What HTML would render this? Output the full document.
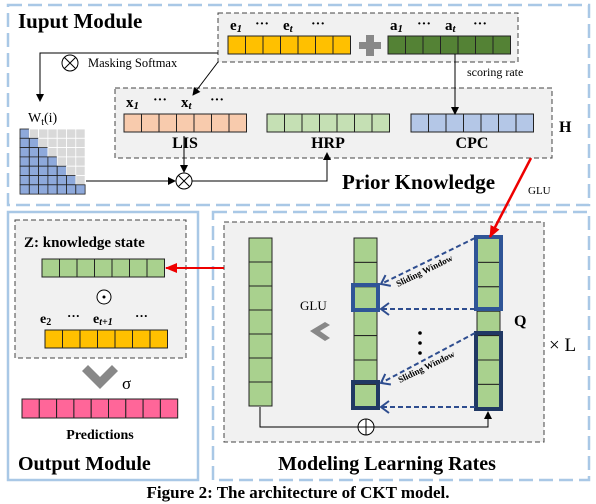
<!DOCTYPE html>
<html><head><meta charset="utf-8"><style>
body{margin:0;background:#fff;width:596px;height:504px;overflow:hidden}
svg{display:block}
text{font-family:"Liberation Serif",serif;fill:#000}
.b{font-weight:bold}
</style></head><body>
<svg id="s" width="596" height="504" viewBox="0 0 596 504" xmlns="http://www.w3.org/2000/svg">
<defs>
<marker id="ar" markerWidth="8" markerHeight="8" refX="7" refY="4" orient="auto" markerUnits="userSpaceOnUse"><path d="M0,0 L8,4 L0,8 z" fill="#000"/></marker>
<marker id="arr" markerWidth="12" markerHeight="10" refX="11" refY="5" orient="auto" markerUnits="userSpaceOnUse"><path d="M0,0 L12,5 L0,10 z" fill="#e00"/></marker>
<marker id="arb" markerWidth="12" markerHeight="14" refX="9" refY="7" orient="auto" markerUnits="userSpaceOnUse"><path d="M1,1 L9,7 L1,13" fill="none" stroke="#2e4d8f" stroke-width="2"/></marker>
</defs>
<rect x="8" y="5" width="581" height="200" fill="none" stroke="#a9c8e6" stroke-width="2.5" stroke-dasharray="14,6"/>
<rect x="8" y="212" width="190" height="268" fill="none" stroke="#a9c8e6" stroke-width="2.5"/>
<rect x="213" y="212" width="376" height="268" fill="none" stroke="#a9c8e6" stroke-width="2.5" stroke-dasharray="14,6"/>
<rect x="218" y="13" width="300" height="49" fill="#f1f1f1" stroke="#444" stroke-dasharray="5,3"/>
<rect x="115" y="88" width="437" height="70" fill="#f1f1f1" stroke="#444" stroke-dasharray="5,3"/>
<rect x="224" y="222" width="320" height="220" fill="#f1f1f1" stroke="#444" stroke-dasharray="5,3"/>
<rect x="15" y="220" width="171" height="138" fill="#f1f1f1" stroke="#444" stroke-dasharray="5,3"/>
<g id="cells"></g>
<text x="18" y="28" class="b" font-size="21">Iuput Module</text>
<text x="230" y="30" class="b" font-size="15">e<tspan font-size="11" font-style="italic" dy="2">1</tspan></text>
<text x="255" y="28" class="b" font-size="14">···</text>
<text x="283" y="30" class="b" font-size="15">e<tspan font-size="11" font-style="italic" dy="2">t</tspan></text>
<text x="311" y="28" class="b" font-size="14">···</text>
<text x="390" y="30" class="b" font-size="15">a<tspan font-size="11" font-style="italic" dy="2">1</tspan></text>
<text x="417" y="28" class="b" font-size="14">···</text>
<text x="445" y="30" class="b" font-size="15">a<tspan font-size="11" font-style="italic" dy="2">t</tspan></text>
<text x="473" y="28" class="b" font-size="14">···</text>
<rect x="359" y="42" width="22" height="7" fill="#888"/><rect x="366" y="35" width="8" height="21" fill="#888"/>
<text x="467" y="76" font-size="12">scoring rate</text>
<polyline points="218,53 40,53 40,101" fill="none" stroke="#000" marker-end="url(#ar)"/>
<circle cx="70" cy="63" r="8" fill="#fff" stroke="#000"/><path d="M64.5,57.5 L75.5,68.5 M75.5,57.5 L64.5,68.5" stroke="#000"/>
<text x="88" y="67" font-size="12.5">Masking  Softmax</text>
<line x1="218" y1="62" x2="193" y2="95" stroke="#000" marker-end="url(#ar)"/>
<line x1="455" y1="54" x2="455" y2="114" stroke="#000" marker-end="url(#ar)"/>
<text x="28" y="122" font-size="14">W<tspan font-size="10" dy="3">t</tspan><tspan dy="-3">(i)</tspan></text>
<text x="126" y="107" class="b" font-size="15">x<tspan font-size="11" font-style="italic" dy="2">1</tspan></text>
<text x="153" y="104" class="b" font-size="14">···</text>
<text x="181" y="107" class="b" font-size="15">x<tspan font-size="11" font-style="italic" dy="2">t</tspan></text>
<text x="210" y="104" class="b" font-size="14">···</text>
<text x="185" y="148" class="b" font-size="16" text-anchor="middle">LIS</text>
<text x="328" y="148" class="b" font-size="16" text-anchor="middle">HRP</text>
<text x="472" y="148" class="b" font-size="16" text-anchor="middle">CPC</text>
<text x="559" y="132" class="b" font-size="16">H</text>
<text x="342" y="189" class="b" font-size="21">Prior Knowledge</text>
<text x="528" y="194" font-size="11">GLU</text>
<line x1="184" y1="136" x2="184" y2="172" stroke="#000" marker-end="url(#ar)"/>
<line x1="86" y1="181" x2="175" y2="181" stroke="#000" marker-end="url(#ar)"/>
<polyline points="192,181 327,181 327,153" fill="none" stroke="#000" marker-end="url(#ar)"/>
<circle cx="184" cy="181" r="8" fill="#fff" stroke="#000"/><path d="M178.5,175.5 L189.5,186.5 M189.5,175.5 L178.5,186.5" stroke="#000"/>
<line x1="531" y1="158" x2="490" y2="237" stroke="#e00" stroke-width="2.5" marker-end="url(#arr)"/>
<line x1="224" y1="268" x2="166" y2="268" stroke="#e00" stroke-width="2" marker-end="url(#arr)"/>
<text x="300" y="310" font-size="13">GLU</text>
<path d="M325,322 L310,331 L325,341 L330,338 L320,331 L330,325 z" fill="#888"/>
<circle cx="420" cy="333" r="1.8" fill="#000"/><circle cx="420" cy="343" r="1.8" fill="#000"/><circle cx="420" cy="353" r="1.8" fill="#000"/>
<g stroke="#2e4d8f" stroke-width="2" stroke-dasharray="5,3" fill="none">
<line x1="475" y1="238" x2="381" y2="284" marker-end="url(#arb)"/>
<line x1="475" y1="309" x2="381" y2="309" marker-end="url(#arb)"/>
<line x1="475" y1="333" x2="381" y2="383" marker-end="url(#arb)"/>
<line x1="475" y1="407" x2="381" y2="407" marker-end="url(#arb)"/>
</g>
<text x="0" y="0" class="b" font-size="9" transform="translate(398,287) rotate(-26)">Sliding Window</text>
<text x="0" y="0" class="b" font-size="9" transform="translate(400,383) rotate(-26)">Sliding Window</text>
<text x="514" y="326" class="b" font-size="16">Q</text>
<text x="549" y="351" font-size="19">× L</text>
<polyline points="260,407 260,427 488,427 488,412" fill="none" stroke="#000" marker-end="url(#ar)"/>
<circle cx="366" cy="427" r="8" fill="#fff" stroke="#000"/><path d="M358,427 H374 M366,419 V435" stroke="#000"/>
<text x="387" y="470" class="b" font-size="20" text-anchor="middle">Modeling Learning Rates</text>
<text x="24" y="247" class="b" font-size="15">Z: knowledge state</text>
<circle cx="104" cy="297" r="7" fill="#fff" stroke="#000"/><circle cx="104" cy="297" r="1.5" fill="#000"/>
<text x="40" y="323" class="b" font-size="14">e<tspan font-size="10" dy="2">2</tspan></text>
<text x="67" y="320" class="b" font-size="13">···</text>
<text x="93" y="323" class="b" font-size="14">e<tspan font-size="10" font-style="italic" dy="2">t+1</tspan></text>
<text x="135" y="320" class="b" font-size="13">···</text>
<path d="M88,365 L100,377 L112,365 L118,371 L100,389 L82,371 z" fill="#888"/>
<text x="122" y="389" font-size="17">σ</text>
<text x="100" y="439" class="b" font-size="14" text-anchor="middle">Predictions</text>
<text x="18" y="470" class="b" font-size="20">Output Module</text>
<text x="298" y="498" class="b" font-size="17" text-anchor="middle">Figure 2: The architecture of CKT model.</text>
</svg>
<script>
var g=document.getElementById('cells'),h='';
function row(x,y,n,w,hh,f){for(var i=0;i<n;i++)h+='<rect x="'+(x+i*w)+'" y="'+y+'" width="'+w+'" height="'+hh+'" fill="'+f+'" stroke="#222" stroke-width="1"/>';}
function col(x,y,n,w,hh,f){for(var i=0;i<n;i++)h+='<rect x="'+x+'" y="'+(y+i*hh)+'" width="'+w+'" height="'+hh+'" fill="'+f+'" stroke="#222" stroke-width="1"/>';}
row(228,36,7,17.5,18,'#ffc000');row(388,36,7,17.5,18,'#548235');
row(124,114,7,17.5,18,'#f8cbad');row(267,114,7,17.5,18,'#c5e0b4');row(411,114,7,17.5,18,'#b4c7e7');
row(42,259,7,17.5,18,'#a9d18e');row(45,330,7,17.5,18,'#ffc000');row(22,399,9,17.3,19,'#ff6699');
col(249,238,7,23,24,'#a9d18e');col(354,238,7,23,24.4,'#a9d18e');col(477,238,7,23,24.4,'#a9d18e');
for(var r=0;r<7;r++)for(var c=0;c<7;c++){h+='<rect x="'+(20+c*9.3)+'" y="'+(129+r*9.3)+'" width="9.3" height="9.3" fill="'+(c<=r?'#8ea9db':'#d9d9d9')+'" stroke="'+(c<=r?'#222':'#fff')+'" stroke-width="0.8"/>';}
h+='<rect x="353" y="285" width="25" height="25" fill="none" stroke="#2f5597" stroke-width="4"/>';
h+='<rect x="353" y="382" width="25" height="26" fill="none" stroke="#203864" stroke-width="4"/>';
h+='<rect x="476" y="237" width="25" height="72" fill="none" stroke="#2f5597" stroke-width="4"/>';
h+='<rect x="476" y="333" width="25" height="76" fill="none" stroke="#203864" stroke-width="4"/>';
g.innerHTML=h;
</script>
</body></html>
